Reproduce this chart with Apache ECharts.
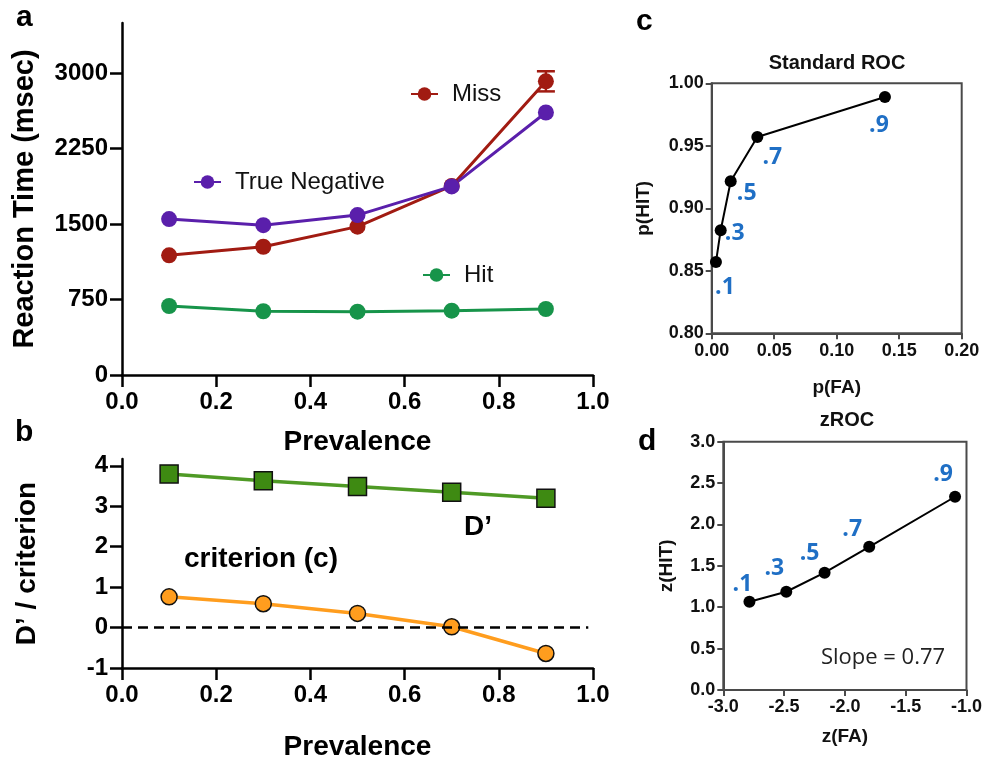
<!DOCTYPE html>
<html>
<head>
<meta charset="utf-8">
<script src="https://cdn.jsdelivr.net/npm/echarts@6/dist/echarts.min.js"></script>
<style>
  html, body { margin: 0; padding: 0; background: #fff; }
  #chart { width: 985px; height: 762px; }
</style>
</head>
<body>
<div id="chart"></div>
<script>
// panel a / b : prevalence on x
var prevalence = [0.1, 0.3, 0.5, 0.7, 0.9];
var missRT = [1190, 1275, 1475, 1880, 2920];
var missErr = [0, 0, 0, 0, 100];
var trueNegRT = [1550, 1490, 1590, 1875, 2610];
var hitRT = [686, 634, 630, 640, 656];
var dPrime = [3.80, 3.63, 3.49, 3.35, 3.20];
var criterion = [0.76, 0.59, 0.35, 0.02, -0.64];

// panel c / d : ROC points, one per prevalence
var pFA = [0.0034, 0.0072, 0.0152, 0.0365, 0.1386];
var pHit = [0.857, 0.8825, 0.9216, 0.957, 0.989];
var zFA = [-2.785, -2.482, -2.167, -1.80, -1.094];
var zHit = [1.066, 1.187, 1.417, 1.73, 2.335];
var prevLabels = ['.1', '.3', '.5', '.7', '.9'];

// tick values
var rtTicks = [0, 750, 1500, 2250, 3000];
var dTicks = [-1, 0, 1, 2, 3, 4];

var sans = "'Liberation Sans', Arial, sans-serif";
var blue = '#1f6fc5';

function zip(xs, ys) {
    return xs.map(function (x, i) { return [x, ys[i]]; });
}

function boldAxis(extra) {
    var base = {
        type: 'value',
        axisLine: { show: true, onZero: false, lineStyle: { color: '#000', width: 2.5 } },
        axisTick: { show: true, length: 12, lineStyle: { color: '#000', width: 2.5 } },
        axisLabel: { color: '#000', fontFamily: sans, fontWeight: 'bold', fontSize: 24, margin: 15 },
        splitLine: { show: false },
        nameLocation: 'middle',
        nameTextStyle: { color: '#000', fontFamily: sans, fontWeight: 'bold', fontSize: 28, lineHeight: 28 }
    };
    return Object.assign(base, extra);
}

function thinAxis(extra) {
    var base = {
        type: 'value',
        axisLine: { show: true, onZero: false, lineStyle: { color: '#4a4a4a', width: 2 } },
        axisTick: { show: true, length: 6, lineStyle: { color: '#4a4a4a', width: 2 } },
        splitLine: { show: false },
        nameLocation: 'middle',
        nameTextStyle: { color: '#111', fontFamily: sans, fontWeight: 'bold', fontSize: 19, lineHeight: 19 }
    };
    return Object.assign(base, extra);
}

function thinLabel(digits, margin) {
    return {
        color: '#111', fontFamily: sans, fontWeight: 'bold', fontSize: 18, margin: margin,
        formatter: function (v) { return v.toFixed(digits); }
    };
}

var cOffsets = [[9, 25], [14, 3], [16, 12], [15, 20], [-6, 28]];
var dOffsets = [[-7, -17], [-12, -23], [-15, -19], [-17, -17], [-12, -22]];

function rocData(xs, ys, offsets) {
    return zip(xs, ys).map(function (pt, i) {
        return {
            value: pt,
            label: { show: true, formatter: prevLabels[i], position: 'inside', offset: offsets[i] }
        };
    });
}

function legendAt(name, left, top) {
    return {
        data: [name],
        left: left, top: top,
        padding: 0,
        itemWidth: 27, itemHeight: 17,
        selectedMode: false,
        textStyle: { fontFamily: sans, fontSize: 24, color: '#111', padding: [0, 0, 0, 9] }
    };
}

function label(text, x, y, size, weight, align, color, font) {
    return {
        type: 'text', x: x, y: y,
        style: {
            text: text, fill: color || '#000',
            font: (weight || 'bold') + ' ' + size + 'px ' + (font || sans),
            textAlign: align || 'left', textVerticalAlign: 'middle'
        }
    };
}

var chart = echarts.init(document.getElementById('chart'));

var option = {
    animation: false,
    grid: [
        { left: 122, top: 23, width: 471, height: 352 },
        { left: 122, top: 459, width: 471, height: 211.7 },
        { left: 711.7, top: 83.3, width: 250, height: 250, show: true, borderColor: '#4a4a4a', borderWidth: 2 },
        { left: 723.3, top: 441.7, width: 248.4, height: 248.3, show: true, borderColor: '#4a4a4a', borderWidth: 2 }
    ],
    xAxis: [
        boldAxis({ gridIndex: 0, min: 0, max: 1, interval: 0.2, name: 'Prevalence', nameGap: 53,
            axisLabel: { color: '#000', fontFamily: sans, fontWeight: 'bold', fontSize: 24, margin: 15,
                formatter: function (v) { return v.toFixed(1); } } }),
        boldAxis({ gridIndex: 1, min: 0, max: 1, interval: 0.2, name: 'Prevalence', nameGap: 65,
            axisLabel: { color: '#000', fontFamily: sans, fontWeight: 'bold', fontSize: 24, margin: 15,
                formatter: function (v) { return v.toFixed(1); } } }),
        thinAxis({ gridIndex: 2, min: 0, max: 0.2, interval: 0.05, name: 'p(FA)', nameGap: 45,
            axisLabel: thinLabel(2, 9) }),
        thinAxis({ gridIndex: 3, min: -3, max: -1, interval: 0.5, name: 'z(FA)', nameGap: 37,
            axisLabel: thinLabel(1, 8) })
    ],
    yAxis: [
        boldAxis({ gridIndex: 0, min: 0, max: 3500, name: 'Reaction Time (msec)', nameGap: 83,
            nameTextStyle: { color: '#000', fontFamily: sans, fontWeight: 'bold', fontSize: 29, lineHeight: 29 },
            axisTick: { show: true, length: 12, customValues: rtTicks, lineStyle: { color: '#000', width: 2.5 } },
            axisLabel: { color: '#000', fontFamily: sans, fontWeight: 'bold', fontSize: 24, margin: 14, customValues: rtTicks,
                formatter: function (v) { return String(v); } } }),
        boldAxis({ gridIndex: 1, min: -1, max: 4.17, name: 'D\u2019 / criterion', nameGap: 81,
            axisTick: { show: true, length: 12, customValues: dTicks, lineStyle: { color: '#000', width: 2.5 } },
            axisLabel: { color: '#000', fontFamily: sans, fontWeight: 'bold', fontSize: 24, margin: 14, customValues: dTicks } }),
        thinAxis({ gridIndex: 2, min: 0.8, max: 1, interval: 0.05, name: 'p(HIT)', nameGap: 58,
            axisLabel: thinLabel(2, 8) }),
        thinAxis({ gridIndex: 3, min: 0, max: 3, interval: 0.5, name: 'z(HIT)', nameGap: 47,
            axisLabel: thinLabel(1, 8) })
    ],
    legend: [
        legendAt('Miss', 410, 82),
        legendAt('True Negative', 193, 170),
        legendAt('Hit', 422, 263)
    ],
    series: [
        {
            name: 'Miss', type: 'line', xAxisIndex: 0, yAxisIndex: 0,
            data: zip(prevalence, missRT),
            symbol: 'circle', symbolSize: 16,
            itemStyle: { color: '#a11b12' },
            lineStyle: { color: '#a11b12', width: 3 }
        },
        {
            name: 'MissErr', type: 'custom', xAxisIndex: 0, yAxisIndex: 0,
            data: prevalence.map(function (p, i) { return [p, missRT[i] - missErr[i], missRT[i] + missErr[i]]; }),
            renderItem: function (params, api) {
                if (api.value(2) === api.value(1)) return null;
                var lo = api.coord([api.value(0), api.value(1)]);
                var hi = api.coord([api.value(0), api.value(2)]);
                var st = { stroke: '#a11b12', lineWidth: 2.5 };
                return {
                    type: 'group',
                    children: [
                        { type: 'line', shape: { x1: lo[0], y1: lo[1], x2: hi[0], y2: hi[1] }, style: st },
                        { type: 'line', shape: { x1: lo[0] - 9, y1: lo[1], x2: lo[0] + 9, y2: lo[1] }, style: st },
                        { type: 'line', shape: { x1: hi[0] - 9, y1: hi[1], x2: hi[0] + 9, y2: hi[1] }, style: st }
                    ]
                };
            },
            z: 1
        },
        {
            name: 'True Negative', type: 'line', xAxisIndex: 0, yAxisIndex: 0,
            data: zip(prevalence, trueNegRT),
            symbol: 'circle', symbolSize: 16,
            itemStyle: { color: '#5a1fab' },
            lineStyle: { color: '#5a1fab', width: 3 }
        },
        {
            name: 'Hit', type: 'line', xAxisIndex: 0, yAxisIndex: 0,
            data: zip(prevalence, hitRT),
            symbol: 'circle', symbolSize: 16,
            itemStyle: { color: '#17944a' },
            lineStyle: { color: '#17944a', width: 3 }
        },
        {
            name: 'D\u2019', type: 'line', xAxisIndex: 1, yAxisIndex: 1,
            data: zip(prevalence, dPrime),
            symbol: 'rect', symbolSize: 18,
            itemStyle: { color: '#3e8a12', borderColor: '#111', borderWidth: 1.5 },
            lineStyle: { color: '#4f9a25', width: 3.5 }
        },
        {
            name: 'criterion (c)', type: 'line', xAxisIndex: 1, yAxisIndex: 1,
            data: zip(prevalence, criterion),
            symbol: 'circle', symbolSize: 16,
            itemStyle: { color: '#ff9d1e', borderColor: '#111', borderWidth: 1.5 },
            lineStyle: { color: '#ff9d1e', width: 3.5 },
            markLine: {
                silent: true, symbol: 'none', label: { show: false },
                lineStyle: { color: '#000', type: [10, 6], width: 2.5 },
                data: [[{ coord: [0, 0] }, { coord: [0.99, 0] }]]
            }
        },
        {
            name: 'Standard ROC', type: 'line', xAxisIndex: 2, yAxisIndex: 2,
            data: rocData(pFA, pHit, cOffsets),
            symbol: 'circle', symbolSize: 12,
            itemStyle: { color: '#000' },
            lineStyle: { color: '#000', width: 2 },
            label: { color: blue, fontFamily: "'Open Sans', sans-serif", fontWeight: 'bold', fontSize: 23 }
        },
        {
            name: 'zROC', type: 'line', xAxisIndex: 3, yAxisIndex: 3,
            data: rocData(zFA, zHit, dOffsets),
            symbol: 'circle', symbolSize: 12,
            itemStyle: { color: '#000' },
            lineStyle: { color: '#000', width: 2 },
            label: { color: blue, fontFamily: "'Open Sans', sans-serif", fontWeight: 'bold', fontSize: 23 }
        }
    ],
    graphic: [
        label('a', 16, 18, 30),
        label('b', 15, 433, 30),
        label('c', 636, 22, 30),
        label('d', 638, 442, 30),
        label('D\u2019', 478, 527, 28, 'bold', 'center'),
        label('criterion (c)', 261, 559, 28, 'bold', 'center'),
        label('Standard ROC', 837, 63, 20, 'bold', 'center', '#111'),
        label('zROC', 847, 420, 20, 'bold', 'center', '#111'),
        label('Slope = 0.77', 883, 658, 22, 'normal', 'center', '#222', "'Open Sans', sans-serif")
    ]
};

chart.setOption(option);
</script>
</body>
</html>
